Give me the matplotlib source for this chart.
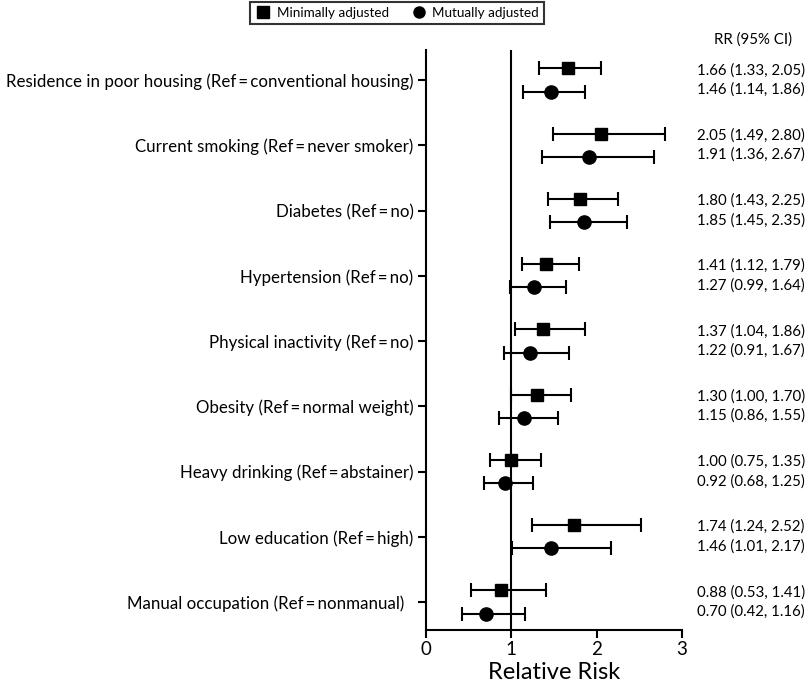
import matplotlib
matplotlib.use("Agg")
import matplotlib.pyplot as plt
from matplotlib.lines import Line2D
import numpy as np

plt.rcParams['font.family'] = ['Lato', 'DejaVu Sans']

categories = [
    "Residence in poor housing (Ref\u2009=\u2009conventional housing)",
    "Current smoking (Ref\u2009=\u2009never smoker)",
    "Diabetes (Ref\u2009=\u2009no)",
    "Hypertension (Ref\u2009=\u2009no)",
    "Physical inactivity (Ref\u2009=\u2009no)",
    "Obesity (Ref\u2009=\u2009normal weight)",
    "Heavy drinking (Ref\u2009=\u2009abstainer)",
    "Low education (Ref\u2009=\u2009high)",
    "Manual occupation (Ref\u2009=\u2009nonmanual)  ",
]

min_rr = [1.66, 2.05, 1.80, 1.41, 1.37, 1.30, 1.00, 1.74, 0.88]
min_lo = [1.33, 1.49, 1.43, 1.12, 1.04, 1.00, 0.75, 1.24, 0.53]
min_hi = [2.05, 2.80, 2.25, 1.79, 1.86, 1.70, 1.35, 2.52, 1.41]

mut_rr = [1.46, 1.91, 1.85, 1.27, 1.22, 1.15, 0.92, 1.46, 0.70]
mut_lo = [1.14, 1.36, 1.45, 0.99, 0.91, 0.86, 0.68, 1.01, 0.42]
mut_hi = [1.86, 2.67, 2.35, 1.64, 1.67, 1.55, 1.25, 2.17, 1.16]

xticks = [0, 1, 2, 3]

fig = plt.figure(figsize=(8.12, 6.86), dpi=100)
ax = fig.add_axes([426/812, 1 - 630/686, 256/812, 580/686])

n = len(categories)
ypos = np.arange(n, 0, -1).astype(float)
off = 0.18

min_rr_a = np.array(min_rr); mut_rr_a = np.array(mut_rr)
ax.errorbar(min_rr_a, ypos + off,
            xerr=[min_rr_a - np.array(min_lo), np.array(min_hi) - min_rr_a],
            fmt='s', color='black', ms=9, capsize=5, elinewidth=1.5, capthick=1.5)
ax.errorbar(mut_rr_a, ypos - off,
            xerr=[mut_rr_a - np.array(mut_lo), np.array(mut_hi) - mut_rr_a],
            fmt='o', color='black', ms=9.5, capsize=5, elinewidth=1.5, capthick=1.5)

ax.axvline(1, color='black', lw=1.5)

ax.set_xlim(0, 3)
ax.set_ylim(1 - 28/65.25, n + 30/65.25)
ax.set_xticks(xticks)
ax.set_xticklabels([str(t) for t in xticks], fontsize=13.5)
ax.set_yticks(ypos)
ax.set_yticklabels(categories, fontsize=12.2)
ax.set_xlabel("Relative Risk", fontsize=17, labelpad=3)

for s in ['top', 'right']:
    ax.spines[s].set_visible(False)
for s in ['left', 'bottom']:
    ax.spines[s].set_linewidth(1.5)
ax.tick_params(axis='both', width=1.5, length=6, color='black')
ax.tick_params(axis='y', pad=3)
ax.tick_params(axis='x', pad=2)

val_fs = 10.8
fig.text(753/812, 1 - 40/686, "RR (95% CI)", fontsize=val_fs, ha='center', va='center')
for i in range(n):
    yy_min = ax.transData.transform((0, ypos[i] + off))[1]
    fig.text(697/812, (yy_min - 2) / 686,
             f"{min_rr[i]:.2f} ({min_lo[i]:.2f}, {min_hi[i]:.2f})",
             fontsize=val_fs, ha='left', va='center')
    yy_mut = ax.transData.transform((0, ypos[i] - off))[1]
    fig.text(697/812, (yy_mut + 2) / 686,
             f"{mut_rr[i]:.2f} ({mut_lo[i]:.2f}, {mut_hi[i]:.2f})",
             fontsize=val_fs, ha='left', va='center')

handles = [Line2D([], [], marker='s', color='black', ls='none', ms=8),
           Line2D([], [], marker='o', color='black', ls='none', ms=8)]
leg = fig.legend(handles, ['Minimally adjusted', 'Mutually adjusted'],
                 loc='center', bbox_to_anchor=(397/812, 1 - 13/686), ncol=2,
                 fontsize=9.7, frameon=True, fancybox=False, edgecolor='black',
                 handletextpad=0.4, columnspacing=1.6, borderpad=0.4, handlelength=1.2)
leg.get_frame().set_linewidth(1.5)

fig.savefig("out.png", dpi=100)
